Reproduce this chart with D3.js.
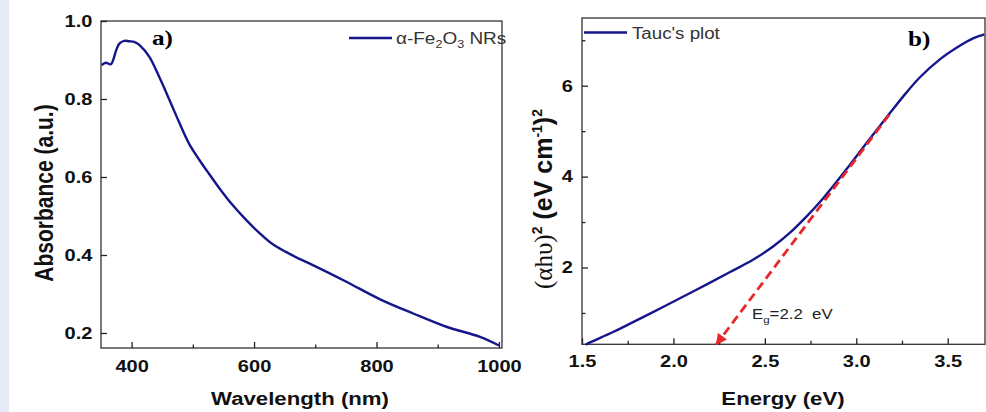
<!DOCTYPE html>
<html>
<head>
<meta charset="utf-8">
<script src="https://cdn.jsdelivr.net/npm/d3@7"></script>
<style>
  body { margin: 0; background: #fff; }
  svg { display: block; font-family: "Liberation Sans", Arial, sans-serif; }
  .tick text { font-size: 16.7px; font-weight: bold; fill: #111; }
  .axis path, .axis line { stroke: #222; stroke-width: 1.3; }
</style>
</head>
<body>
<script>
// panel a) absorbance spectrum
var wavelength = [351, 358, 366, 375, 380, 388, 396, 405, 413, 429, 445, 462, 478, 494, 511, 527, 543, 565, 587, 609, 630, 652, 674, 696, 750, 805, 860, 914, 969, 1000];
var absorbance = [0.887, 0.893, 0.889, 0.926, 0.942, 0.949, 0.948, 0.946, 0.938, 0.908, 0.857, 0.797, 0.739, 0.685, 0.643, 0.607, 0.572, 0.528, 0.490, 0.456, 0.428, 0.408, 0.390, 0.374, 0.332, 0.287, 0.250, 0.216, 0.190, 0.168];
var absTicks = [0.2, 0.4, 0.6, 0.8, 1.0];
var wlTicks = [400, 600, 800, 1000];
var wlMinor = [500, 700, 900];

// panel b) Tauc plot
var energy = [1.52, 1.533, 1.67, 1.76, 1.943, 2.126, 2.31, 2.435, 2.545, 2.636, 2.718, 2.818, 2.946, 3.056, 3.165, 3.256, 3.347, 3.457, 3.566, 3.639, 3.685, 3.70];
var tauc = [0.30, 0.33, 0.58, 0.76, 1.13, 1.51, 1.90, 2.17, 2.46, 2.76, 3.08, 3.52, 4.16, 4.74, 5.30, 5.76, 6.18, 6.58, 6.88, 7.04, 7.11, 7.13];
var taucTicks = [2, 4, 6];
var taucMinor = [1, 3, 5, 7];
var eTicks = [1.5, 2.0, 2.5, 3.0, 3.5];
var eMinor = [1.75, 2.25, 2.75, 3.25];
var fitLine = [[3.18, 5.36], [2.235, 0.31]];
var gapLabel = [2.43, 0.86];

var W = 986, H = 412;
var lineColor = "#16168c";
var sx = 1.2; // the original figure is a little wider than tall

var svg = d3.select("body").append("svg")
    .attr("width", W).attr("height", H);

// light strip on the left edge
svg.append("rect").attr("x", 0).attr("y", 0).attr("width", 9).attr("height", H)
    .attr("fill", "#e5eaf6");

svg.append("defs").append("marker")
    .attr("id", "arrow")
    .attr("viewBox", "0 0 10 10")
    .attr("refX", 9).attr("refY", 5)
    .attr("markerWidth", 4.2).attr("markerHeight", 4)
    .attr("markerUnits", "strokeWidth")
    .attr("orient", "auto")
  .append("path")
    .attr("d", "M0,0 L10,5 L0,10 z")
    .attr("fill", "#e8272b");

function wideText(g, x, y) {
  return g.append("text").attr("transform", "translate(" + x + "," + y + ") scale(" + sx + ",1)");
}
function stretchTicks(g) {
  g.selectAll("text").attr("transform", "scale(" + sx + ",1)");
}

// ---------- panel a ----------
var xA = d3.scaleLinear().domain([350, 1005]).range([101, 502]);
var yA = d3.scaleLinear().domain([0.1615, 1.0]).range([348, 21]);

var ga = svg.append("g");

ga.append("rect")
    .attr("x", 101).attr("y", 21)
    .attr("width", 502 - 101).attr("height", 348 - 21)
    .attr("fill", "none").attr("stroke", "#333").attr("stroke-width", 1.3);

ga.append("g").attr("class", "axis")
    .attr("transform", "translate(0,348)")
    .call(d3.axisBottom(xA).tickValues(wlTicks).tickFormat(d3.format("d")).tickSize(-6).tickPadding(12))
    .call(function(g) { g.select(".domain").remove(); })
    .call(stretchTicks);
ga.append("g").attr("class", "axis")
    .attr("transform", "translate(0,348)")
    .call(d3.axisBottom(xA).tickValues(wlMinor).tickFormat("").tickSize(-3.5))
    .call(function(g) { g.select(".domain").remove(); });
ga.append("g").attr("class", "axis")
    .attr("transform", "translate(101,0)")
    .call(d3.axisLeft(yA).tickValues(absTicks).tickFormat(d3.format(".1f")).tickSize(-6).tickPadding(7.2))
    .call(function(g) { g.select(".domain").remove(); })
    .call(stretchTicks);

var absLine = wavelength.map(function(d, i) { return [d, absorbance[i]]; });
ga.append("path")
    .datum(absLine)
    .attr("fill", "none")
    .attr("stroke", lineColor)
    .attr("stroke-width", 2.4)
    .attr("stroke-linejoin", "round")
    .attr("d", d3.line().x(function(d) { return xA(d[0]); }).y(function(d) { return yA(d[1]); }).curve(d3.curveCatmullRom));

wideText(ga, 152, 45)
    .style("font-family", "'Liberation Serif', 'Times New Roman', serif")
    .style("font-weight", "bold").style("font-size", "21px")
    .text("a)");

// legend a
ga.append("line").attr("x1", 349).attr("x2", 392).attr("y1", 38).attr("y2", 38)
    .attr("stroke", lineColor).attr("stroke-width", 2.6);
var legA = wideText(ga, 396, 44)
    .style("font-size", "15.8px").attr("fill", "#333");
legA.append("tspan").text("\u03b1-Fe");
legA.append("tspan").attr("dy", 4).style("font-size", "10.5px").text("2");
legA.append("tspan").attr("dy", -4).text("O");
legA.append("tspan").attr("dy", 4).style("font-size", "10.5px").text("3");
legA.append("tspan").attr("dy", -4).text(" NRs");

wideText(ga, 300, 405)
    .attr("text-anchor", "middle")
    .style("font-size", "18.5px").style("font-weight", "bold").attr("fill", "#111")
    .text("Wavelength (nm)");

ga.append("text")
    .attr("transform", "translate(53,193) scale(" + sx + ",1) rotate(-90)")
    .attr("text-anchor", "middle")
    .style("font-size", "21px").style("font-weight", "bold").attr("fill", "#111")
    .text("Absorbance (a.u.)");

// ---------- panel b ----------
var xB = d3.scaleLinear().domain([1.5, 3.704]).range([582, 985]);
var yB = d3.scaleLinear().domain([0.31, 7.49]).range([344.3, 18]);

var gb = svg.append("g");

gb.append("rect")
    .attr("x", 582).attr("y", 18)
    .attr("width", 985 - 582).attr("height", 344.3 - 18)
    .attr("fill", "none").attr("stroke", "#333").attr("stroke-width", 1.3);

gb.append("g").attr("class", "axis")
    .attr("transform", "translate(0,344.3)")
    .call(d3.axisBottom(xB).tickValues(eTicks).tickFormat(d3.format(".1f")).tickSize(-6).tickPadding(10.8))
    .call(function(g) { g.select(".domain").remove(); })
    .call(stretchTicks);
gb.append("g").attr("class", "axis")
    .attr("transform", "translate(0,344.3)")
    .call(d3.axisBottom(xB).tickValues(eMinor).tickFormat("").tickSize(-3.5))
    .call(function(g) { g.select(".domain").remove(); });
gb.append("g").attr("class", "axis")
    .attr("transform", "translate(582,0)")
    .call(d3.axisLeft(yB).tickValues(taucTicks).tickFormat(d3.format("d")).tickSize(-6).tickPadding(7.5))
    .call(function(g) { g.select(".domain").remove(); })
    .call(stretchTicks);
gb.append("g").attr("class", "axis")
    .attr("transform", "translate(582,0)")
    .call(d3.axisLeft(yB).tickValues(taucMinor).tickFormat("").tickSize(-3.5))
    .call(function(g) { g.select(".domain").remove(); });

var taucLine = energy.map(function(d, i) { return [d, tauc[i]]; });
gb.append("path")
    .datum(taucLine)
    .attr("fill", "none")
    .attr("stroke", lineColor)
    .attr("stroke-width", 2.4)
    .attr("stroke-linejoin", "round")
    .attr("d", d3.line().x(function(d) { return xB(d[0]); }).y(function(d) { return yB(d[1]); }).curve(d3.curveCatmullRom));

// extrapolated fit with arrow
gb.append("path")
    .datum(fitLine)
    .attr("fill", "none")
    .attr("stroke", "#e8272b")
    .attr("stroke-width", 2.8)
    .attr("stroke-dasharray", "9,5")
    .attr("marker-end", "url(#arrow)")
    .attr("d", d3.line().x(function(d) { return xB(d[0]); }).y(function(d) { return yB(d[1]); }));

var eg = wideText(gb, xB(gapLabel[0]), yB(gapLabel[1]))
    .style("font-size", "14px").attr("fill", "#222");
eg.append("tspan").text("E");
eg.append("tspan").attr("dy", 4).style("font-size", "9.5px").text("g");
eg.append("tspan").attr("dy", -4).text("=2.2\u00a0\u00a0eV");

wideText(gb, 908, 46)
    .style("font-family", "'Liberation Serif', 'Times New Roman', serif")
    .style("font-weight", "bold").style("font-size", "21px")
    .text("b)");

// legend b
gb.append("line").attr("x1", 584).attr("x2", 627).attr("y1", 32.5).attr("y2", 32.5)
    .attr("stroke", lineColor).attr("stroke-width", 2.6);
wideText(gb, 632, 39)
    .style("font-size", "15.6px").attr("fill", "#333")
    .text("Tauc's plot");

wideText(gb, 783, 405)
    .attr("text-anchor", "middle")
    .style("font-size", "18.5px").style("font-weight", "bold").attr("fill", "#111")
    .text("Energy (eV)");

var yt = gb.append("text")
    .attr("transform", "translate(552,199) rotate(-90)")
    .attr("text-anchor", "middle")
    .style("font-size", "25px").attr("fill", "#111");
yt.append("tspan").style("font-family", "'Liberation Serif', 'Times New Roman', serif").text("(\u03b1h\u03c5)");
yt.append("tspan").attr("dy", -10).style("font-size", "14px").style("font-weight", "bold").text("2");
yt.append("tspan").attr("dy", 10).style("font-weight", "bold").text(" (eV cm");
yt.append("tspan").attr("dy", -10).style("font-size", "14px").style("font-weight", "bold").text("-1");
yt.append("tspan").attr("dy", 10).style("font-weight", "bold").text(")");
yt.append("tspan").attr("dy", -10).style("font-size", "14px").style("font-weight", "bold").text("2");
</script>
</body>
</html>
